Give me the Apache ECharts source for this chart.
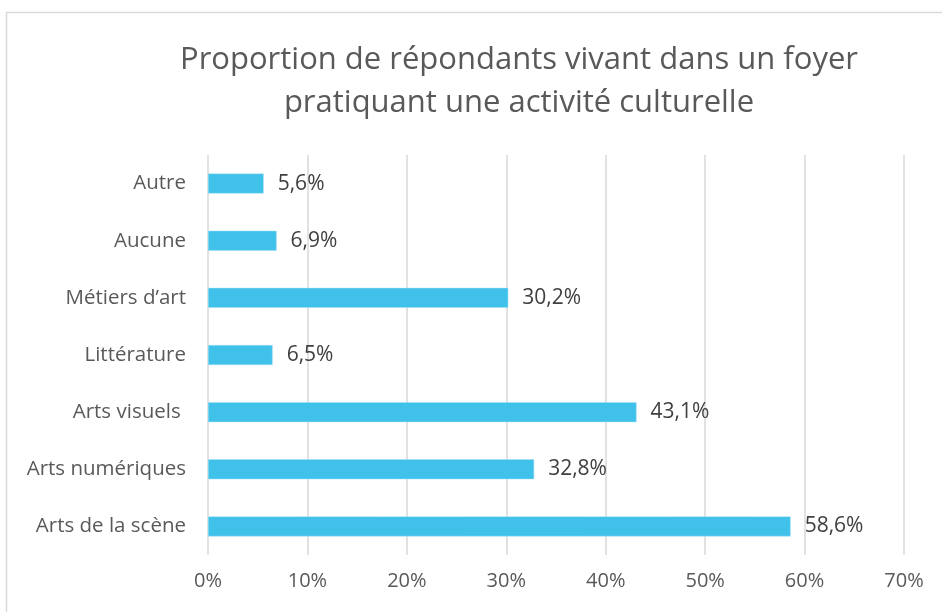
<!DOCTYPE html>
<html>
<head>
<meta charset="utf-8">
<script src="https://cdn.jsdelivr.net/npm/echarts@6/dist/echarts.min.js"></script>
<style>
  html, body { margin: 0; padding: 0; background: #fff; }
  #chart { width: 942px; height: 612px; }
</style>
</head>
<body>
<div id="chart"></div>
<script>
// categories, bottom to top
const categories = ['Arts de la scène', 'Arts numériques', 'Arts visuels ', 'Littérature', 'Métiers d\u2019art', 'Aucune', 'Autre']
const values = [58.6, 32.8, 43.1, 6.5, 30.2, 6.9, 5.6]
const titleText = 'Proportion de répondants vivant dans un foyer\npratiquant une activité culturelle'

const chart = echarts.init(document.getElementById('chart'))

const option = {
  animation: false,
  textStyle: { fontFamily: 'Open Sans' },
  title: {
    text: titleText,
    left: 514,
    top: 34,
    textAlign: 'center',
    textStyle: {
      fontFamily: 'Open Sans',
      fontSize: 31,
      fontWeight: 'normal',
      color: '#595959',
      lineHeight: 43,
    },
  },
  graphic: [
    {
      type: 'rect',
      left: 4,
      top: 10,
      shape: { width: 1100, height: 700 },
      style: { fill: 'none', stroke: '#d9d9d9', lineWidth: 1.5 },
      silent: true,
    },
  ],
  grid: { left: 208, right: 38, top: 155, bottom: 57, containLabel: false },
  xAxis: {
    type: 'value',
    min: 0,
    max: 70,
    interval: 10,
    axisLine: { show: false },
    axisTick: { show: false },
    splitLine: { lineStyle: { color: '#d9d9d9', width: 1.5 } },
    axisLabel: {
      formatter: '{value}%',
      color: '#595959',
      fontSize: 20,
      margin: 16,
    },
  },
  yAxis: {
    type: 'category',
    data: categories,
    axisLine: { show: false },
    axisTick: { show: false },
    axisLabel: { color: '#595959', fontSize: 20.5, margin: 22 },
  },
  series: [
    {
      type: 'bar',
      data: values,
      barWidth: 20,
      itemStyle: { color: '#3fc1ea', borderColor: '#a6e1f5', borderWidth: 0.5 },
      label: {
        show: true,
        position: 'right',
        distance: 14,
        color: '#404040',
        fontSize: 21,
        formatter: (p) => p.value.toFixed(1).replace('.', ',') + '%',
      },
    },
  ],
}

chart.setOption(option)
</script>
</body>
</html>
